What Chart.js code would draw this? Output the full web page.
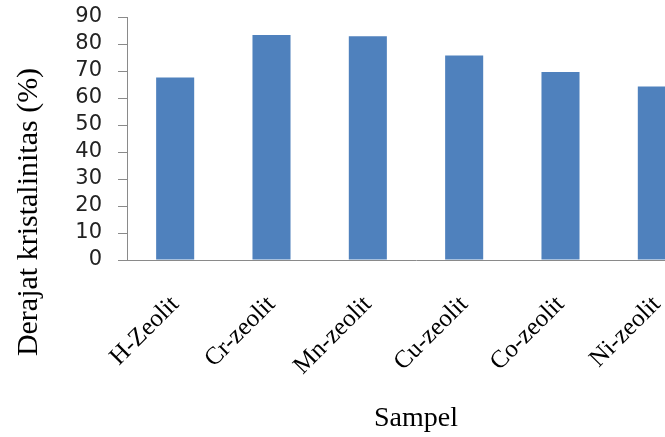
<!DOCTYPE html>
<html>
<head>
<meta charset="utf-8">
<script src="https://cdn.jsdelivr.net/npm/chart.js@4.4.1/dist/chart.umd.min.js"></script>
<style>
  html, body { margin: 0; padding: 0; background: #fff; overflow: hidden; }
  #wrap { width: 705px; height: 437px; }
</style>
</head>
<body>
<div id="wrap"><canvas id="c" width="705" height="437"></canvas></div>
<script>
const categories = ['H-Zeolit', 'Cr-zeolit', 'Mn-zeolit', 'Cu-zeolit', 'Co-zeolit', 'Ni-zeolit'];
const crystallinity = [67.6, 83.3, 82.9, 75.7, 69.6, 64.3];
const yTitle = 'Derajat kristalinitas (%)';
const xTitle = 'Sampel';

const yTitlePlugin = {
  id: 'yTitlePlugin',
  afterDraw(chart) {
    const ctx = chart.ctx;
    ctx.save();
    ctx.translate(29, 212);
    ctx.rotate(-Math.PI / 2);
    ctx.font = '30px "Liberation Serif", "Times New Roman", serif';
    ctx.fillStyle = '#000';
    ctx.textAlign = 'center';
    ctx.textBaseline = 'middle';
    ctx.fillText(yTitle, 0, 0);
    ctx.restore();
  }
};

new Chart(document.getElementById('c'), {
  type: 'bar',
  data: {
    labels: categories,
    datasets: [{
      data: crystallinity,
      backgroundColor: '#4F81BD',
      borderWidth: 0,
      categoryPercentage: 1,
      barPercentage: 0.395
    }]
  },
  options: {
    responsive: false,
    animation: false,
    layout: { padding: { top: 17, left: 0, right: 0, bottom: 0 } },
    plugins: { legend: { display: false }, tooltip: { enabled: false } },
    scales: {
      x: {
        grid: { display: false, drawTicks: false },
        border: { display: true, color: '#8a8a8a', width: 1 },
        ticks: {
          autoSkip: false,
          minRotation: 45,
          maxRotation: 45,
          padding: 30,
          color: '#000',
          font: { family: '"Liberation Serif", "Times New Roman", serif', size: 25 }
        },
        title: {
          display: true,
          text: xTitle,
          color: '#000',
          padding: { top: 0, bottom: 2 },
          font: { family: '"Liberation Serif", "Times New Roman", serif', size: 28 }
        },
        afterFit(scale) { scale.height = 177; scale.paddingLeft = 0; scale.paddingRight = 0; }
      },
      y: {
        min: 0,
        max: 90,
        grid: { display: true, drawOnChartArea: false, drawTicks: true, tickLength: 9, color: '#8a8a8a' },
        border: { display: true, color: '#8a8a8a', width: 1 },
        ticks: {
          autoSkip: false,
          stepSize: 10,
          padding: 16,
          color: '#222',
          font: { family: '"DejaVu Sans", Verdana, sans-serif', size: 21 }
        },
        afterFit(scale) { scale.width = 127; scale.paddingTop = 0; scale.paddingBottom = 0; }
      }
    }
  },
  plugins: [yTitlePlugin]
});
</script>
</body>
</html>
